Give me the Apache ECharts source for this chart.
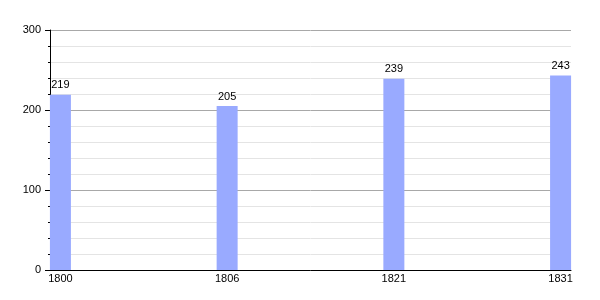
<!DOCTYPE html>
<html>
<head>
<meta charset="utf-8">
<script src="https://cdn.jsdelivr.net/npm/echarts@6/dist/echarts.min.js"></script>
<style>html,body{margin:0;padding:0;background:#fff}#c{width:600px;height:300px}</style>
</head>
<body>
<div id="c"></div>
<script>
var years = ['1800', '1806', '1821', '1831'];
var population = [219, 205, 239, 243];
var yTicks = [0, 100, 200, 300];

var chart = echarts.init(document.getElementById('c'), null, {renderer: 'canvas'});
var font = 'Liberation Sans, Arial, sans-serif';
chart.setOption({
  animation: false,
  grid: {left: 50, right: 29, top: 30, bottom: 30},
  xAxis: {
    type: 'value',
    position: 'bottom',
    min: -0.0625,
    max: 3.0625,
    axisLine: {show: true, onZero: false, lineStyle: {color: '#000', width: 1}},
    axisTick: {show: false},
    splitLine: {show: false},
    axisLabel: {
      customValues: [0, 1, 2, 3],
      formatter: function (v) { return years[Math.round(v)]; },
      color: '#000', fontFamily: font, fontSize: 11, margin: 3
    }
  },
  yAxis: {
    type: 'value',
    position: 'left',
    min: yTicks[0],
    max: yTicks[yTicks.length - 1],
    interval: 100,
    axisLine: {show: true, onZero: false, lineStyle: {color: '#000', width: 1}},
    axisTick: {show: true, length: 5, lineStyle: {color: '#000'}},
    minorTick: {show: true, splitNumber: 5, length: 2, lineStyle: {color: '#000'}},
    splitLine: {show: true, lineStyle: {color: '#a8a8a8', width: 1}},
    minorSplitLine: {show: true, lineStyle: {color: '#e4e4e4', width: 1}},
    axisLabel: {color: '#000', fontFamily: font, fontSize: 11, margin: 9}
  },
  series: [{
    type: 'bar',
    data: population.map(function (v, i) { return [i, v]; }),
    barWidth: 21,
    itemStyle: {color: '#99aaff'},
    label: {show: true, position: 'top', distance: 4, color: '#000', fontFamily: font, fontSize: 11}
  }]
});
</script>
</body>
</html>
